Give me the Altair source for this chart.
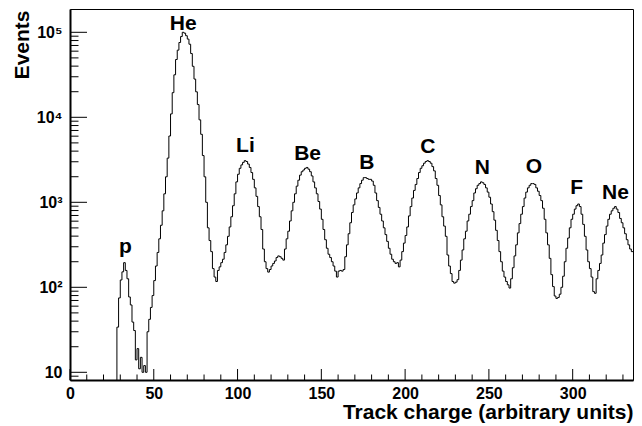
import altair as alt
import numpy as np
import pandas as pd

# ---- data ----
bin_width = 1
x_domain = [0, 336]
y_domain = [8.12, 188000]

counts = [
    0, 0, 0, 0, 0, 0, 0, 0, 0, 0,
    0, 0, 0, 0, 0, 0, 0, 0, 0, 0,
    0, 0, 0, 0, 0, 0, 0, 0, 34, 75,
    122, 152, 195, 158, 126, 77, 62, 39, 31, 14,
    19, 11, 15, 10, 12, 10, 30, 42, 58, 80,
    120, 178, 257, 372, 537, 794, 1259, 1995, 3311, 6026,
    10965, 19498, 31623, 47863, 61660, 75858, 89125, 100000, 97724, 91201,
    83176, 72444, 56234, 39811, 28184, 19953, 14125, 9333, 6310, 3548,
    1995, 1000, 501, 355, 263, 166, 132, 117, 158, 174,
    195, 214, 257, 316, 398, 513, 676, 912, 1259, 1738,
    2138, 2512, 2754, 2951, 3090, 3020, 2818, 2570, 2239, 1862,
    1479, 1175, 891, 676, 479, 282, 200, 166, 151, 162,
    178, 191, 204, 224, 234, 229, 219, 209, 282, 372,
    457, 603, 794, 1000, 1259, 1549, 1820, 2089, 2291, 2399,
    2512, 2570, 2455, 2291, 2042, 1738, 1479, 1259, 1023, 832,
    631, 479, 363, 288, 245, 224, 200, 178, 155, 132,
    155, 158, 155, 162, 229, 316, 427, 575, 759, 933,
    1096, 1288, 1479, 1660, 1820, 1950, 1950, 1905, 1862, 1862,
    1778, 1585, 1288, 1047, 871, 724, 603, 501, 417, 347,
    288, 245, 214, 200, 191, 195, 174, 209, 263, 331,
    407, 513, 692, 891, 1122, 1380, 1622, 1905, 2239, 2512,
    2692, 2884, 3020, 3090, 3020, 2884, 2630, 2344, 1905, 1585,
    1202, 933, 676, 525, 398, 240, 178, 145, 117, 112,
    115, 123, 158, 209, 275, 372, 457, 603, 724, 891,
    1047, 1288, 1445, 1585, 1660, 1738, 1698, 1622, 1479, 1318,
    1148, 955, 776, 617, 468, 355, 263, 200, 155, 132,
    117, 107, 98, 126, 170, 234, 316, 437, 562, 724,
    891, 1122, 1318, 1479, 1585, 1660, 1660, 1622, 1479, 1349,
    1202, 1047, 851, 631, 437, 316, 219, 141, 102, 79,
    74, 76, 83, 100, 135, 200, 288, 380, 501, 631,
    724, 832, 912, 955, 891, 724, 550, 398, 275, 200,
    166, 132, 89, 85, 126, 158, 191, 240, 331, 417,
    525, 631, 724, 794, 851, 891, 832, 759, 646, 575,
    501, 427, 363, 316, 282, 263,
]

label_names = ["p", "He", "Li", "Be", "B", "C", "N", "O", "F", "Ne"]
label_x = [33.1, 67.6, 104.7, 141.8, 177.1, 213.5, 246.1, 276.9, 302.4, 325.5]
label_y = [251, 106500, 3936, 3148, 2466, 3802, 2153, 2213, 1253, 1084]

x_major = [0, 50, 100, 150, 200, 250, 300]
x_minor = [10, 20, 30, 40, 60, 70, 80, 90, 110, 120, 130, 140, 160, 170, 180,
           190, 210, 220, 230, 240, 260, 270, 280, 290, 310, 320, 330]
y_major = [10, 100, 1000, 10000, 100000]
y_major_text = ["10\u2002", "10\u00b2", "10\u00b3", "10\u2074", "10\u2075"]
y_minor = [9, 20, 30, 40, 50, 60, 70, 80, 90,
           200, 300, 400, 500, 600, 700, 800, 900,
           2000, 3000, 4000, 5000, 6000, 7000, 8000, 9000,
           20000, 30000, 40000, 50000, 60000, 70000, 80000, 90000]

x_title = "Track charge (arbitrary units)"
y_title = "Events"

# ---- chart ----
W, H = 563, 371
FONT = "Liberation Sans"
PX_PER_X = W / (x_domain[1] - x_domain[0])
PX_PER_DECADE = H / np.log10(y_domain[1] / y_domain[0])

def xlen(px):
    return float(x_domain[0] + px / PX_PER_X)

def ylen(px):
    return float(y_domain[0] * 10 ** (px / PX_PER_DECADE))

edges = [i * bin_width for i in range(len(counts) + 1)]
vals = counts + [counts[-1]]
hist = pd.DataFrame({"x": edges, "n": np.maximum(vals, 1)})  # empty bins drawn below the axis

xs = alt.Scale(domain=x_domain, nice=False, zero=False)
ys = alt.Scale(type="log", domain=y_domain, nice=False)

label_expr = " : ".join(
    f"datum.value == {v} ? '{t}'" for v, t in zip(y_major[:-1], y_major_text[:-1])
) + f" : '{y_major_text[-1]}'"

line = alt.Chart(hist).mark_line(
    interpolate="step-after", color="black", strokeWidth=1, clip=True
).encode(
    x=alt.X("x:Q", scale=xs, axis=alt.Axis(
        orient="bottom", values=x_major, ticks=False, grid=False,
        domainColor="black", domainWidth=2,
        labelFont=FONT, labelFontSize=16, labelFontWeight="bold", labelColor="black",
        labelPadding=5, labelFlush=False, labelOverlap=False,
        title=x_title, titleFont=FONT, titleFontSize=21, titleFontWeight="bold",
        titleColor="black", titleAlign="right", titleBaseline="alphabetic",
        titleX=W, titleY=38,
    )),
    y=alt.Y("n:Q", scale=ys, axis=alt.Axis(
        orient="left", values=y_major, labelExpr=label_expr, ticks=False, grid=False,
        domainColor="black", domainWidth=2,
        labelFont=FONT, labelFontSize=16, labelFontWeight="bold", labelColor="black",
        labelPadding=8, labelFlush=False, labelOverlap=False, labelBaseline="middle",
        title=y_title, titleFont=FONT, titleFontSize=21, titleFontWeight="bold",
        titleColor="black", titleAngle=270, titleAlign="right", titleBaseline="middle",
        titleX=-47.5, titleY=1,
    )),
)

# inward tick marks as two-point line segments, mapped through the shared scales
yt_rows = []
for i, v in enumerate(y_major + y_minor):
    length = 17 if v in y_major else 8.5
    yt_rows.append({"id": i, "px": xlen(0), "v": v})
    yt_rows.append({"id": i, "px": xlen(length), "v": v})
xt_rows = []
for i, v in enumerate(x_major + x_minor):
    length = 11 if v in x_major else 5.5
    xt_rows.append({"id": i, "v": v, "py": ylen(0)})
    xt_rows.append({"id": i, "v": v, "py": ylen(length)})

yticks = alt.Chart(pd.DataFrame(yt_rows)).mark_line(color="black", strokeWidth=1).encode(
    x=alt.X("px:Q", scale=xs, axis=None),
    y=alt.Y("v:Q", scale=ys, axis=None),
    detail="id:N",
)
xticks = alt.Chart(pd.DataFrame(xt_rows)).mark_line(color="black", strokeWidth=1).encode(
    x=alt.X("v:Q", scale=xs, axis=None),
    y=alt.Y("py:Q", scale=ys, axis=None),
    detail="id:N",
)

labels = alt.Chart(pd.DataFrame({"name": label_names, "x": label_x, "y": label_y})).mark_text(
    font=FONT, fontSize=21, fontWeight="bold", baseline="alphabetic", align="center", color="black"
).encode(
    x=alt.X("x:Q", scale=xs, axis=None),
    y=alt.Y("y:Q", scale=ys, axis=None),
    text="name:N",
)

chart = alt.layer(line, yticks, xticks, labels).resolve_axis(
    x="independent", y="independent"
).properties(
    width=W, height=H,
    autosize=alt.AutoSizeParams(type="none"),
    padding={"left": 62, "top": 1, "right": 1, "bottom": 46},
).configure_view(stroke="black", strokeWidth=1)

chart.save("out.html", embed_options={"renderer": "svg", "actions": False})
